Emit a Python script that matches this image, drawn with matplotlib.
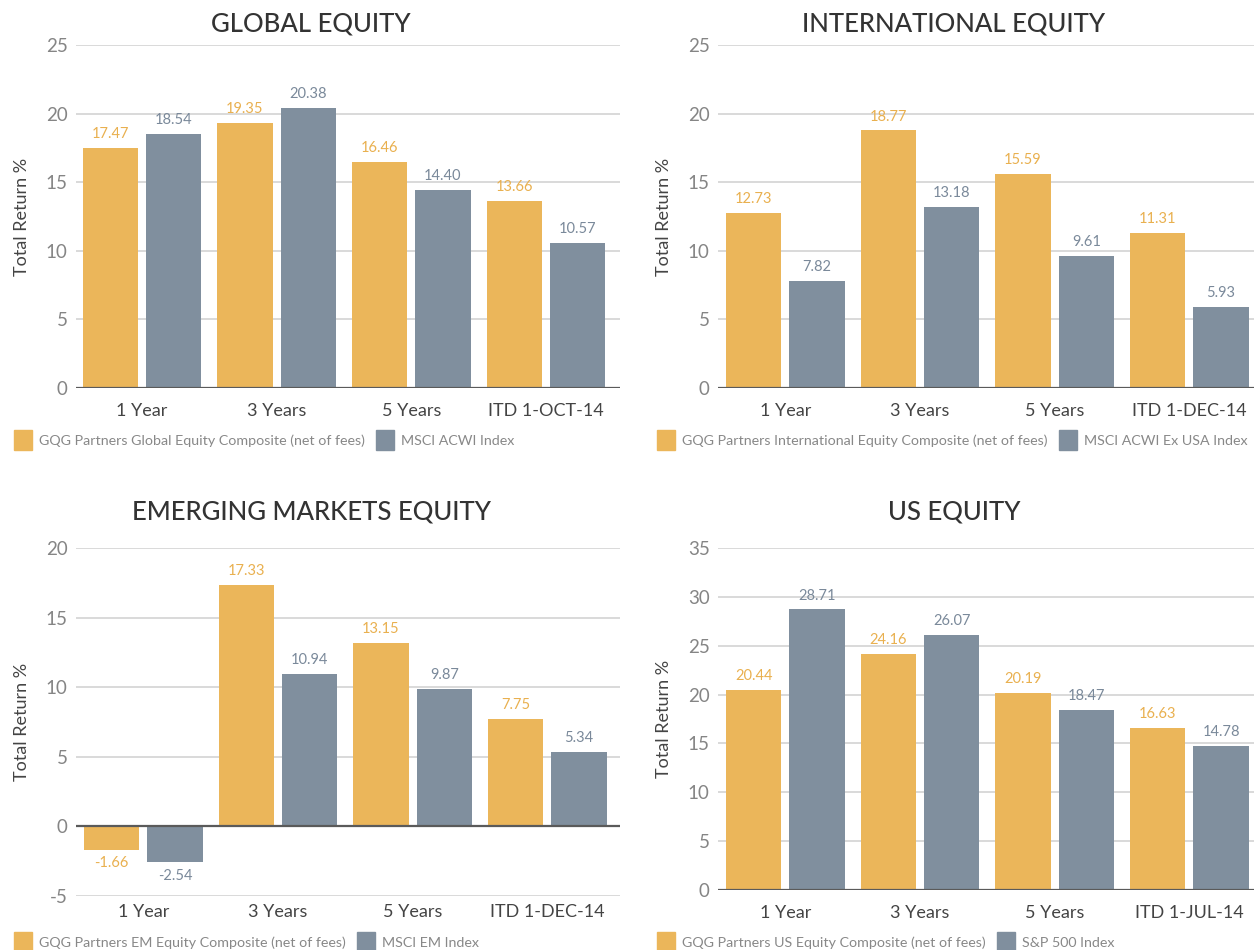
import numpy as np
import matplotlib.pyplot as plt
from matplotlib.patches import Patch

plt.rcParams['font.family'] = ['Lato', 'DejaVu Sans']

periods = ['1 Year', '3 Years', '5 Years']

glob_gqg = [17.47, 19.35, 16.46, 13.66]
glob_idx = [18.54, 20.38, 14.40, 10.57]
intl_gqg = [12.73, 18.77, 15.59, 11.31]
intl_idx = [7.82, 13.18, 9.61, 5.93]
em_gqg = [-1.66, 17.33, 13.15, 7.75]
em_idx = [-2.54, 10.94, 9.87, 5.34]
us_gqg = [20.44, 24.16, 20.19, 16.63]
us_idx = [28.71, 26.07, 18.47, 14.78]

yellow = '#EBB65A'
grey = '#808F9E'
yellow_txt = '#E9B04F'
grey_txt = '#7A899A'

fig = plt.figure(figsize=(12.54, 9.5), dpi=100)
W, H = 1254, 950


def panel(box, title, title_xy, gqg, idx, itd, ylim, step, legend_names, legend_xy, xlim, xpad):
    l, t, r, b = box
    ax = fig.add_axes([l / W, 1 - b / H, (r - l) / W, (b - t) / H])
    x = np.arange(4)
    w = 0.41
    ax.bar(x - 0.235, gqg, w, color=yellow, zorder=2)
    ax.bar(x + 0.235, idx, w, color=grey, zorder=2)
    for xi, v in zip(x, gqg):
        ax.annotate(f'{v:.2f}', (xi - 0.235, v), xytext=(0, 5 if v >= 0 else -5),
                    textcoords='offset points', ha='center',
                    va='bottom' if v >= 0 else 'top', color=yellow_txt, fontsize=10.5)
    for xi, v in zip(x, idx):
        ax.annotate(f'{v:.2f}', (xi + 0.235, v), xytext=(0, 5 if v >= 0 else -5),
                    textcoords='offset points', ha='center',
                    va='bottom' if v >= 0 else 'top', color=grey_txt, fontsize=10.5)
    ax.set_ylim(*ylim)
    ax.set_xlim(*xlim)
    ticks = np.arange(ylim[0], ylim[1] + 0.1, step)
    ax.set_yticks(ticks)
    ax.set_yticklabels([f'{int(tk)}' for tk in ticks])
    for tk in ticks:
        if tk != 0:
            ax.axhline(tk, color='#D3D3D3', lw=1.2, zorder=1)
    ax.axhline(0, color='#5A5A5A', lw=1.6, zorder=3)
    ax.set_xticks(x)
    ax.set_xticklabels(periods + [itd])
    ax.tick_params(axis='x', length=0, pad=xpad, labelsize=13, labelcolor='#444444')
    ax.tick_params(axis='y', length=0, pad=6, labelsize=13.5, labelcolor='#858585')
    for s in ax.spines.values():
        s.set_visible(False)
    ax.set_facecolor('none')
    fig.text(title_xy[0] / W, 1 - title_xy[1] / H, title, ha='center', va='center',
             fontsize=18.5, color='#333333', fontweight='medium')
    fig.text((l - 54) / W, 1 - (t + b) / 2 / H, 'Total Return %', rotation=90,
             ha='center', va='center', fontsize=13, color='#444444')
    handles = [Patch(color=yellow), Patch(color=grey)]
    fig.legend(handles, legend_names, loc='center left',
               bbox_to_anchor=(legend_xy[0] / W, 1 - legend_xy[1] / H),
               ncol=2, frameon=False, fontsize=10.3, labelcolor='#888888',
               handlelength=1.25, handleheight=1.75, handletextpad=0.5,
               columnspacing=0.8, borderaxespad=0, borderpad=0)
    return ax


panel((76, 45, 620, 388), 'GLOBAL EQUITY', (311, 24), glob_gqg, glob_idx,
      'ITD 1-OCT-14', (0, 25), 5,
      ['GQG Partners Global Equity Composite (net of fees)', 'MSCI ACWI Index'],
      (14, 440), (-0.49, 3.55), 11)
panel((718, 45, 1254, 388), 'INTERNATIONAL EQUITY', (954, 24), intl_gqg, intl_idx,
      'ITD 1-DEC-14', (0, 25), 5,
      ['GQG Partners International Equity Composite (net of fees)', 'MSCI ACWI Ex USA Index'],
      (657, 440), (-0.50, 3.48), 11)
panel((76, 548, 620, 896), 'EMERGING MARKETS EQUITY', (311, 512), em_gqg, em_idx,
      'ITD 1-DEC-14', (-5, 20), 5,
      ['GQG Partners EM Equity Composite (net of fees)', 'MSCI EM Index'],
      (14, 942), (-0.50, 3.54), 6)
panel((718, 548, 1254, 890), 'US EQUITY', (954, 512), us_gqg, us_idx,
      'ITD 1-JUL-14', (0, 35), 5,
      ['GQG Partners US Equity Composite (net of fees)', 'S&P 500 Index'],
      (657, 942), (-0.50, 3.48), 11)

fig.savefig('out.png', dpi=100)
